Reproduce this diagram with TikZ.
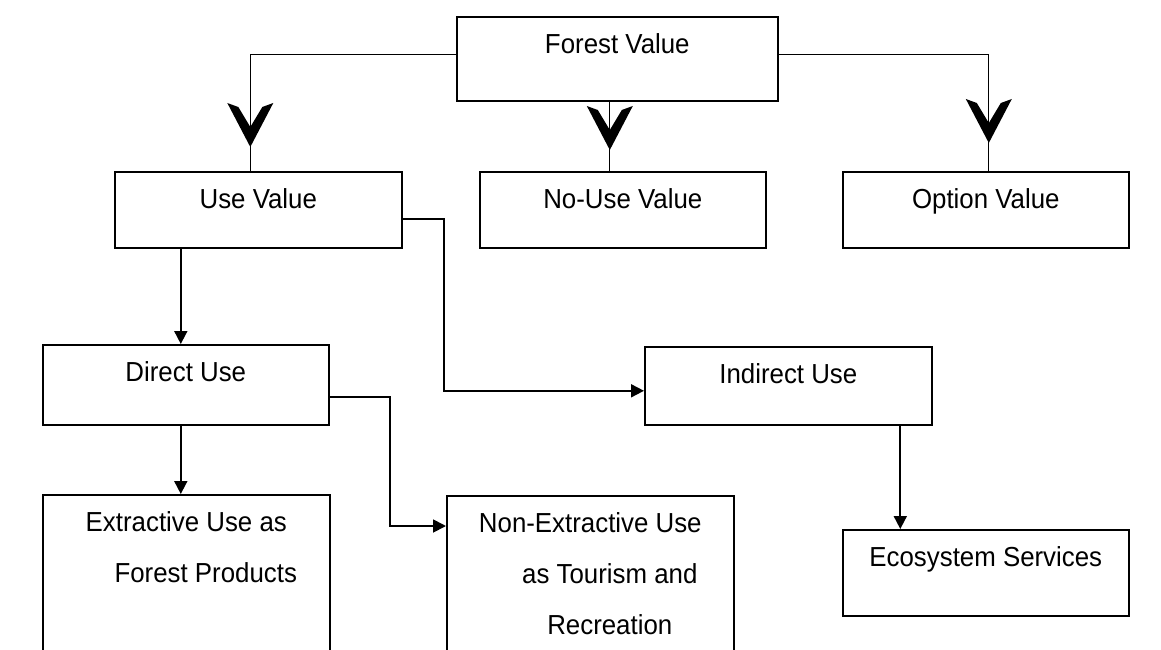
\documentclass[tikz,border=0pt]{standalone}
\usepackage{fontspec}
\setmainfont{Liberation Sans}[FakeStretch=0.94]
\usetikzlibrary{arrows.meta,decorations.markings}

\begin{document}
\begin{tikzpicture}[x=1pt,y=-1pt]
			\tikzstyle{box}=[draw, line width=1.6pt, anchor=north west, inner sep=0pt, minimum width=287pt, text height=37pt, font=\fontsize{27.5}{33}\selectfont]
			\tikzstyle{link}=[draw, line width=1.8pt, -{Triangle[length=13pt,width=13pt]}]
			\tikzset{branch/.style={draw, line width=1.3pt, postaction={decorate}, decoration={markings, mark=at position -#1 with {\fill (0,0) -- (-44,23) -- (-40,12) -- (-20,0) -- (-40,-12) -- (-44,-23) -- cycle;}}}}

			\path[use as bounding box, clip] (0,0) rectangle (1161,650);

			\node (fv) at (456,16) [box, minimum width=321pt, text depth=47pt] {Forest Value};
			\node (uv) at (114,171) [box, text depth=39pt] {Use Value};
			\node (nuv) at (479,171) [box, minimum width=286pt, text depth=39pt] {No-Use Value};
			\node (ov) at (842,171) [box, minimum width=286pt, text depth=39pt] {Option Value};
			\node (du) at (42,344) [box, minimum width=286pt, text depth=43pt] {Direct Use};
			\node (iu) at (644,346) [box, text depth=41pt] {Indirect Use};
			\node (ext) at (42,494) [box, text depth=200pt] {\begin{tabular}[t]{@{}c@{}}Extractive Use as\\[18pt]\hspace*{39pt}Forest Products\end{tabular}};
			\node (nonext) at (446,495) [box, text depth=200pt] {\begin{tabular}[t]{@{}c@{}}Non-Extractive Use\\[18pt]\hspace*{39pt}as Tourism and\\[18pt]\hspace*{39pt}Recreation\end{tabular}};
			\node (es) at (842,529) [box, minimum width=286pt, text depth=49pt] {Ecosystem Services};

			\path[branch=24pt] ([yshift=4pt]fv.west) -| ([xshift=-8pt]uv.north);
			\path[branch=21pt] ([xshift=-13pt]nuv.north |- fv.south) -- ([xshift=-13pt]nuv.north);
			\path[branch=28pt] ([yshift=4pt]fv.east) -| ([xshift=3pt]ov.north);

			\path[link] ([xshift=-5pt]du.north |- uv.south) -- ([xshift=-5pt]du.north);
			\path[link] ([xshift=-5pt]du.south) -- ([xshift=-5pt]du.south |- ext.north);
			\path[link] ([yshift=-9pt]uv.east) -- ++(41,0) |- ([yshift=-5pt]iu.west);
			\path[link] ([yshift=-12pt]du.east) -- ++(60,0) |- ([yshift=-31pt]nonext.north west);
			\path[link] ([xshift=112pt]iu.south) -- ([xshift=112pt]iu.south |- es.north);
\end{tikzpicture}
\end{document}
